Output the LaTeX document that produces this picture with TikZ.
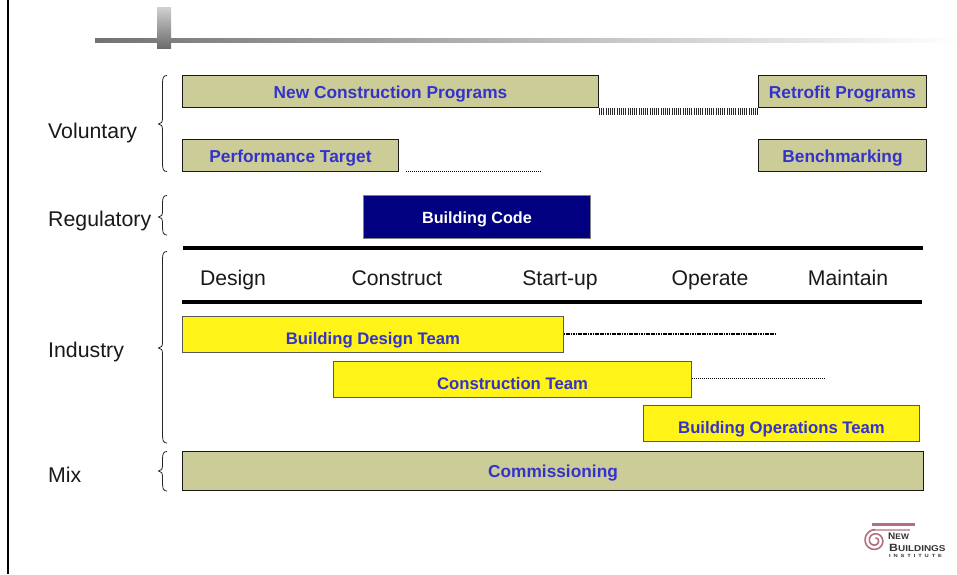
\documentclass[tikz,border=0pt]{standalone}
\usepackage{fontspec}
\setmainfont{Liberation Sans}
\newcommand{\lbrc}[3]{%
  \draw[bracestroke] (167,#1) .. controls (163.5,#1) and (162.5,#1+2) .. (162.5,#1+8)
    -- (162.5,#2-6) .. controls (162.5,#2-2) and (161.5,#2) .. (158.5,#2)
    .. controls (161.5,#2) and (162.5,#2+2) .. (162.5,#2+6)
    -- (162.5,#3-8) .. controls (162.5,#3-2) and (163.5,#3) .. (167,#3);}
\newcommand{\bartext}[2]{\smash{\raisebox{-#1pt}{#2}}}
\tikzset{
  x=1pt,y=-1pt,
  bracestroke/.style={draw=black!85,line width=0.8pt},
  sidelabel/.style={anchor=base west,inner sep=0pt,font=\fontsize{21.3}{21.3}\selectfont,text=black!90},
  phase/.style={anchor=base,inner sep=0pt,font=\fontsize{21.2}{21.2}\selectfont,text=black!90},
  bar/.style={inner sep=0pt,font=\fontsize{17.3}{17.3}\bfseries\selectfont,text=textblue},
  khaki/.style={bar,draw=black!90,line width=1pt,fill=khakifill},
  team/.style={bar,draw=black!65,line width=1pt,fill=teamyellow,font=\fontsize{16.7}{16.7}\bfseries\selectfont},
  code/.style={bar,draw=black!50,line width=1pt,fill=codenavy,text=white,font=\fontsize{16.2}{16.2}\bfseries\selectfont},
  rulebar/.style={line width=3.8pt,black},
  dotlink/.style={black,line width=0.8pt,dash pattern=on 1pt off 1pt},
  heavylink/.style={black,line width=2pt,dash pattern=on 1.2pt off 0.5pt},
  hatchlink/.style={black!85,line width=7pt,dash pattern=on 1pt off 1.2pt},
  logotext/.style={inner sep=0pt,anchor=base west,text=black!80},
}
\definecolor{khakifill}{HTML}{CCCC99}
\definecolor{teamyellow}{HTML}{FFF317}
\definecolor{codenavy}{HTML}{000080}
\definecolor{textblue}{HTML}{3333CC}
\definecolor{logorose}{HTML}{B0707E}
\begin{document}
\begin{tikzpicture}
\useasboundingbox (0,0) rectangle (957,574);
\fill[white] (0,0) rectangle (957,574);
% frame and header
\draw[black,line width=2pt] (7.7,0) -- (7.7,574);
\shade[left color=black!55,right color=white] (95,38) rectangle (957,42);
\shade[top color=black!18,bottom color=black!58] (157,7) rectangle (171,48);
% braces
\lbrc{75.5}{124}{171.5}
\lbrc{195.5}{217}{235}
\lbrc{251.5}{348}{443}
\lbrc{451.5}{471}{491}
% left labels
\node[sidelabel] (voluntary) at (48,138) {Voluntary};
\node[sidelabel] (regulatory) at (48,226) {Regulatory};
\node[sidelabel] (industry) at (48,357) {Industry};
\node[sidelabel] (mix) at (48,482) {Mix};
% bars
\node[khaki,minimum width=416pt,minimum height=32pt] (newcon) at (390.5,91.5) {\bartext{6.5}{New Construction Programs}};
\node[khaki,minimum width=168pt,minimum height=32pt] (retro) at (842.5,91.5) {\bartext{6.5}{Retrofit Programs}};
\node[khaki,minimum width=216pt,minimum height=32pt] (perf) at (290.5,155.5) {\bartext{6.5}{Performance Target}};
\node[khaki,minimum width=168pt,minimum height=32pt] (bench) at (842.5,155.5) {\bartext{6.5}{Benchmarking}};
\node[code,minimum width=227pt,minimum height=43pt] (bcode) at (477,217) {\bartext{6.8}{Building Code}};
\node[team,minimum width=381pt,minimum height=36pt] (design) at (373,334.5) {\bartext{9.7}{Building Design Team}};
\node[team,minimum width=358pt,minimum height=36pt] (constr) at (512.5,379.5) {\bartext{9.7}{Construction Team}};
\node[team,minimum width=276pt,minimum height=36pt] (oper) at (781.5,423.5) {\bartext{9.7}{Building Operations Team}};
\node[khaki,minimum width=741pt,minimum height=39pt] (comm) at (553,471) {\bartext{6.5}{Commissioning}};
% phase rules and labels
\coordinate (r1a) at (183,248); \coordinate (r1b) at (923,248);
\coordinate (r2a) at (182,302); \coordinate (r2b) at (922,302);
\draw[rulebar] (r1a) -- (r1b);
\draw[rulebar] (r2a) -- (r2b);
\node[phase] (p1) at (233,285) {Design};
\node[phase] (p2) at (397,285) {Construct};
\node[phase] (p3) at (560,285) {Start-up};
\node[phase] (p4) at (710,285) {Operate};
\node[phase] (p5) at (848,285) {Maintain};
% dotted extensions
\draw[hatchlink] ([yshift=-3.5pt]newcon.south east) -- ([yshift=-3.5pt]retro.south west);
\coordinate (pe) at (541,171);
\coordinate (ps) at (406,171);
\draw[dotlink] (ps) -- (pe);
\coordinate (de) at (776,333.7);
\draw[heavylink] (design.east |- de) -- (de);
\coordinate (ce) at (825,378.5);
\draw[dotlink] (constr.east |- ce) -- (ce);
% logo
\draw[logorose,line width=2.4pt] (872,524.5) -- (915,524.5);
\draw[logorose!65,line width=2pt] (873,529.5) -- (910,529.5);
\draw[logorose,line width=1.6pt] plot[smooth,domain=90:800,samples=50]
  ({875+(11-8.5*(\x-90)/710)*cos(\x)},{540.5-(11-8.5*(\x-90)/710)*sin(\x)});
\node[logotext,font=\fontsize{9.5}{9.5}\bfseries\selectfont] (lnew) at (888,539.5) {\scalebox{1.05}[1]{N{\fontsize{8}{8}\selectfont EW}}};
\node[logotext,font=\fontsize{10.5}{10.5}\bfseries\selectfont] (lbuild) at (889,551.5) {\scalebox{1.17}[1]{B{\fontsize{8.5}{8.5}\selectfont UILDINGS}}};
\node[logotext,font=\fontsize{4.5}{4.5}\bfseries\selectfont] (linst) at (889,557.5) {\scalebox{1.28}[1]{I\,\,\,N\,\,\,S\,\,\,T\,\,\,I\,\,\,T\,\,\,U\,\,\,T\,\,\,E}};
\end{tikzpicture}
\end{document}
